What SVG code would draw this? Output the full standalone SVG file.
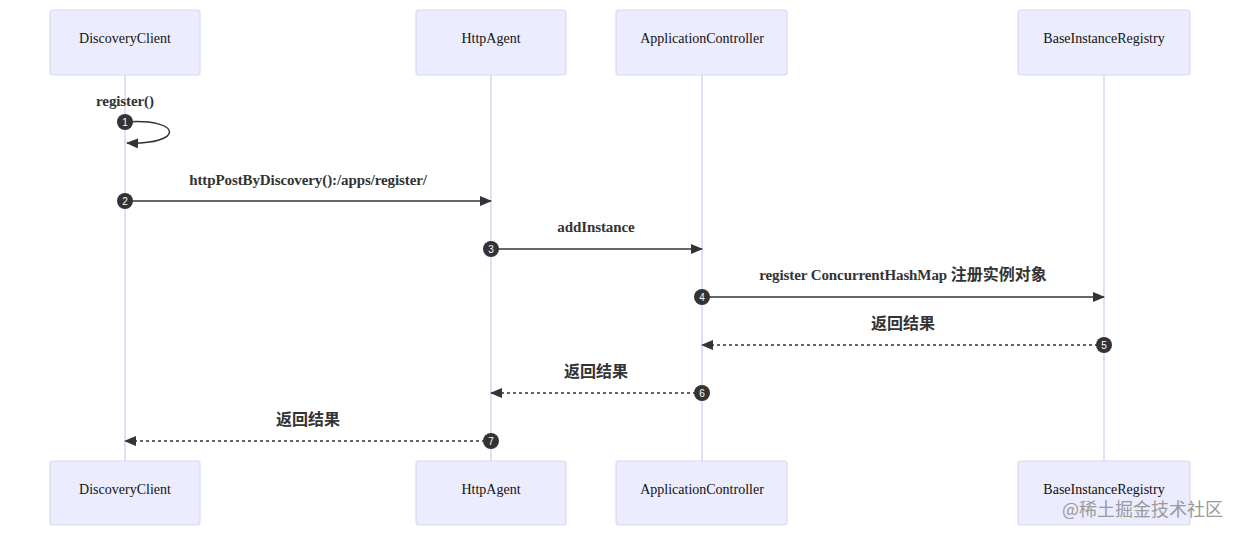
<svg xmlns="http://www.w3.org/2000/svg" width="1240" height="537" viewBox="0 0 1240 537">
<defs>
<style>
.actor{fill:#ECECFF;stroke:#dcd8f3;stroke-width:1.2;}
.alabel{font-family:"Liberation Serif","Noto Sans CJK SC",serif;font-size:14px;fill:#111;text-anchor:middle;dominant-baseline:central;}
.life{stroke:#d8d4f2;stroke-width:1.5;}
.msg{stroke:#333;stroke-width:1.5;fill:none;}
.dash{stroke-dasharray:3,3;}
.mlabel{font-family:"Liberation Serif","Noto Sans CJK SC",serif;font-size:15px;font-weight:bold;fill:#333;text-anchor:middle;letter-spacing:-0.1px;}
.cn{font-family:"Noto Sans CJK SC",sans-serif;font-size:16px;font-weight:bold;fill:#333;text-anchor:middle;}
.num{fill:#333;}
.numt{font-family:"Liberation Sans",sans-serif;font-size:10px;fill:#fff;text-anchor:middle;dominant-baseline:central;}
.wm{font-family:"Noto Sans CJK SC",sans-serif;font-size:18px;fill:#9a9a9a;}
</style>
<marker id="arrow" viewBox="0 0 12 10" refX="11" refY="5" markerWidth="12" markerHeight="10" markerUnits="userSpaceOnUse" orient="auto">
<path d="M0,0 L12,5 L0,10 z" fill="#333"/>
</marker>
</defs>
<rect width="1240" height="537" fill="#fff"/>
<g id="lifelines">
<line class="life" x1="125" y1="75" x2="125" y2="461"/>
<line class="life" x1="491" y1="75" x2="491" y2="461"/>
<line class="life" x1="702" y1="75" x2="702" y2="461"/>
<line class="life" x1="1104" y1="75" x2="1104" y2="461"/>
</g>
<g id="DiscoveryClient">
<rect class="actor" x="50" y="10" width="150" height="65" rx="3"/>
<text class="alabel" x="125" y="38">DiscoveryClient</text>
</g>
<g id="HttpAgent">
<rect class="actor" x="416" y="10" width="150" height="65" rx="3"/>
<text class="alabel" x="491" y="38">HttpAgent</text>
</g>
<g id="ApplicationController">
<rect class="actor" x="616" y="10" width="171" height="65" rx="3"/>
<text class="alabel" x="702" y="38">ApplicationController</text>
</g>
<g id="BaseInstanceRegistry">
<rect class="actor" x="1018" y="10" width="172" height="65" rx="3"/>
<text class="alabel" x="1104" y="38">BaseInstanceRegistry</text>
</g>
<g id="DiscoveryClient-bottom">
<rect class="actor" x="50" y="461" width="150" height="64" rx="3"/>
<text class="alabel" x="125" y="489">DiscoveryClient</text>
</g>
<g id="HttpAgent-bottom">
<rect class="actor" x="416" y="461" width="150" height="64" rx="3"/>
<text class="alabel" x="491" y="489">HttpAgent</text>
</g>
<g id="ApplicationController-bottom">
<rect class="actor" x="616" y="461" width="171" height="64" rx="3"/>
<text class="alabel" x="702" y="489">ApplicationController</text>
</g>
<g id="BaseInstanceRegistry-bottom">
<rect class="actor" x="1018" y="461" width="172" height="64" rx="3"/>
<text class="alabel" x="1104" y="489">BaseInstanceRegistry</text>
</g>
<g id="connectors">
<path class="msg" d="M125,122 C184,118 184,145 127,143" marker-end="url(#arrow)"/>
<line class="msg" x1="125" y1="201" x2="491" y2="201" marker-end="url(#arrow)"/>
<line class="msg" x1="491" y1="249" x2="702" y2="249" marker-end="url(#arrow)"/>
<line class="msg" x1="702" y1="297" x2="1104" y2="297" marker-end="url(#arrow)"/>
<line class="msg dash" x1="1104" y1="345" x2="702" y2="345" marker-end="url(#arrow)"/>
<line class="msg dash" x1="702" y1="393" x2="491" y2="393" marker-end="url(#arrow)"/>
<line class="msg dash" x1="491" y1="441" x2="125" y2="441" marker-end="url(#arrow)"/>
</g>
<g id="labels">
<text class="mlabel" x="125" y="106">register()</text>
<text class="mlabel" x="308" y="185">httpPostByDiscovery():/apps/register/</text>
<text class="mlabel" x="596" y="232">addInstance</text>
<text class="mlabel" x="903" y="280">register ConcurrentHashMap <tspan font-family="Noto Sans CJK SC, sans-serif" font-size="16" letter-spacing="0">注册实例对象</tspan></text>
<text class="cn" x="903" y="329">返回结果</text>
<text class="cn" x="596" y="377">返回结果</text>
<text class="cn" x="308" y="425">返回结果</text>
</g>
<g id="sequence-numbers">
<circle class="num" cx="125" cy="122" r="8"/><text class="numt" x="125" y="122">1</text>
<circle class="num" cx="125" cy="201" r="8"/><text class="numt" x="125" y="201">2</text>
<circle class="num" cx="491" cy="249" r="8"/><text class="numt" x="491" y="249">3</text>
<circle class="num" cx="702" cy="297" r="8"/><text class="numt" x="702" y="297">4</text>
<circle class="num" cx="1104" cy="345" r="8"/><text class="numt" x="1104" y="345">5</text>
<circle class="num" cx="702" cy="393" r="8"/><text class="numt" x="702" y="393">6</text>
<circle class="num" cx="491" cy="441" r="8"/><text class="numt" x="491" y="441">7</text>
</g>
<text class="wm" x="1062" y="516">@稀土掘金技术社区</text>
</svg>
